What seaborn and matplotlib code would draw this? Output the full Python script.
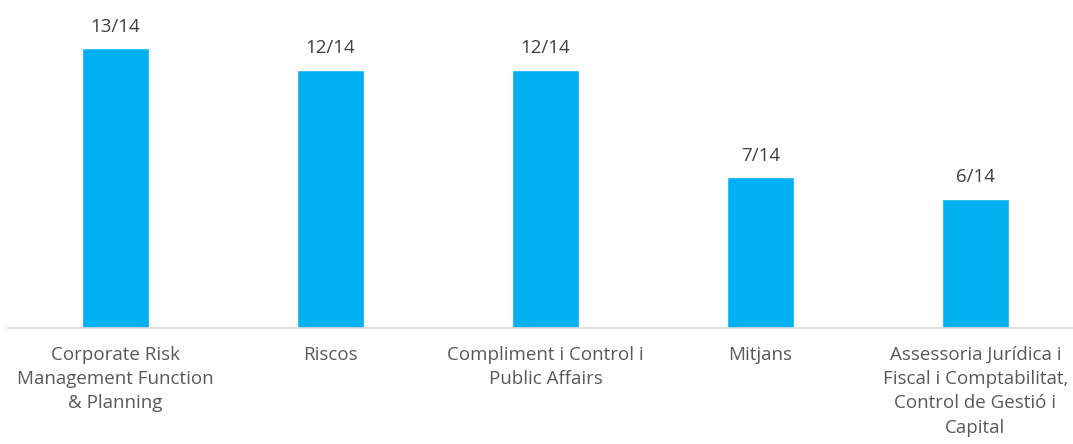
import matplotlib
matplotlib.use("Agg")
import matplotlib.pyplot as plt
import seaborn as sns
import pandas as pd

categories = [
    "Corporate Risk\nManagement Function\n& Planning",
    "Riscos",
    "Compliment i Control i\nPublic Affairs",
    "Mitjans",
    "Assessoria Jurídica i\nFiscal i Comptabilitat,\nControl de Gestió i\nCapital",
]
values = [13, 12, 12, 7, 6]
total = 14

df = pd.DataFrame({"area": categories, "n": values})

sns.set_style("white")
plt.rcParams["font.family"] = ["Open Sans", "DejaVu Sans"]

fig = plt.figure(figsize=(10.73, 4.44), dpi=100)
ax = fig.add_axes([8 / 1073, 116 / 444, 1075 / 1073, 328 / 444])

sns.barplot(data=df, x="area", y="n", color="#00B0F0", saturation=1,
            width=0.31, ax=ax)

for i, v in enumerate(values):
    ax.annotate(f"{v}/{total}", (i, v), xytext=(0, 9), textcoords="offset points",
                ha="center", va="bottom", fontsize=13.5, color="#404040")

ax.set_ylim(0, 328 / (280 / 13))
ax.set_xlim(-0.5, len(values) - 0.5)
ax.set_xlabel("")
ax.set_ylabel("")
ax.set_yticks([])
ax.tick_params(axis="x", length=0, pad=13, labelsize=13.5, labelcolor="#595959")
for s in ["top", "left", "right"]:
    ax.spines[s].set_visible(False)
ax.spines["bottom"].set_color("#D9D9D9")
ax.spines["bottom"].set_linewidth(1.2)
for lbl in ax.get_xticklabels():
    lbl.set_linespacing(1.44)

fig.savefig("out.png", dpi=100)
